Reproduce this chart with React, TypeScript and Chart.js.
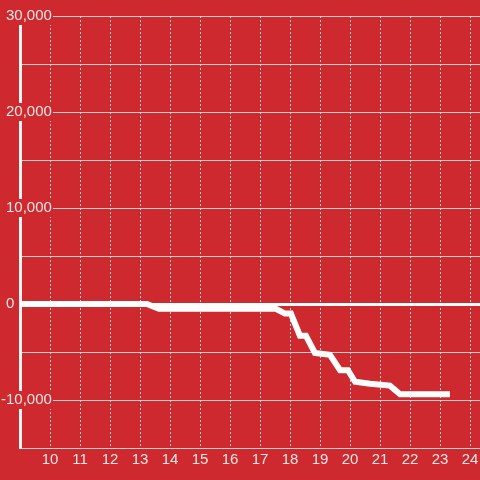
import React, { useEffect, useRef } from "react";
import { Chart, registerables } from "chart.js";

Chart.register(...registerables);

// Data (x = hour, y = value)
const xValues = [8.9, 13.23, 13.63, 17.53, 17.83, 18.03, 18.33, 18.53, 18.83, 19.33, 19.67, 19.93, 20.17, 20.67, 21.33, 21.67, 23.33];
const yValues = [0, 0, -500, -500, -1000, -1000, -3300, -3300, -5100, -5300, -6900, -6900, -8100, -8300, -8500, -9400, -9400];

// Axis ticks
const xTickValues = [10, 11, 12, 13, 14, 15, 16, 17, 18, 19, 20, 21, 22, 23, 24];
const yTickValues = [-15000, -10000, -5000, 0, 5000, 10000, 15000, 20000, 25000, 30000];
const yLabelledTicks = [-10000, 0, 10000, 20000, 30000];

const BG = "rgb(205,41,46)";
const GRID = "#cfcfcf";
const TEXT = "#f6e6e6";
const FONT = { family: "'Liberation Sans', Arial, sans-serif", size: 15 };

function yLabel(v: number): string {
  if (!yLabelledTicks.includes(v)) return "";
  // the zero label sits further left in the reference; trailing spaces reproduce that
  return v === 0 ? "0         " : v.toLocaleString("en-US");
}

export default function App() {
  const canvasRef = useRef<HTMLCanvasElement | null>(null);

  useEffect(() => {
    if (!canvasRef.current) return;
    const points = xValues.map((x, i) => ({ x, y: yValues[i] }));
    const chart = new Chart(canvasRef.current, {
      type: "line",
      data: {
        datasets: [
          {
            data: points,
            borderColor: "#ffffff",
            borderWidth: 6,
            pointRadius: 0,
            tension: 0,
            fill: false,
          },
        ],
      },
      options: {
        animation: false,
        responsive: false,
        maintainAspectRatio: false,
        layout: { padding: { top: 16, left: 0, right: 0, bottom: 0 } },
        plugins: { legend: { display: false }, tooltip: { enabled: false } },
        scales: {
          x: {
            type: "linear",
            min: 9,
            max: 24.333,
            afterBuildTicks: (scale: any) => {
              scale.ticks = xTickValues.map((v) => ({ value: v }));
            },
            afterFit: (scale: any) => {
              scale.height = 32;
              scale.paddingLeft = 0;
              scale.paddingRight = 0;
            },
            grid: { color: GRID, lineWidth: 1, drawTicks: false },
            border: { display: true, color: GRID, width: 1, dash: [2, 2] },
            ticks: {
              color: TEXT,
              font: FONT,
              padding: 3,
              autoSkip: false,
              maxRotation: 0,
              callback: (v: any) => String(v),
            },
          },
          y: {
            type: "linear",
            min: -15000,
            max: 30000,
            afterBuildTicks: (scale: any) => {
              scale.ticks = yTickValues.map((v) => ({ value: v }));
            },
            afterFit: (scale: any) => {
              scale.width = 20;
              scale.paddingTop = 0;
              scale.paddingBottom = 0;
            },
            grid: {
              drawTicks: false,
              color: (ctx: any) => (ctx.tick && ctx.tick.value === 0 ? "#ffffff" : GRID),
              lineWidth: (ctx: any) => (ctx.tick && ctx.tick.value === 0 ? 3 : 1),
            },
            border: { display: true, color: "#f4f4f4", width: 3 },
            ticks: {
              color: TEXT,
              font: FONT,
              mirror: true,
              crossAlign: "far",
              padding: -19,
              autoSkip: false,
              showLabelBackdrop: (ctx: any) =>
                !!ctx.tick && ctx.tick.value !== 0 && yLabelledTicks.includes(ctx.tick.value),
              backdropColor: BG,
              backdropPadding: { top: 0, bottom: 0, left: 1, right: 1 },
              callback: (v: any) => yLabel(Number(v)),
            },
          },
        },
      },
    });
    return () => chart.destroy();
  }, []);

  return (
    <div
      style={{
        position: "fixed",
        left: 0,
        top: 0,
        width: 480,
        height: 480,
        background: BG,
      }}
    >
      <canvas ref={canvasRef} width={480} height={480} style={{ display: "block" }} />
    </div>
  );
}
